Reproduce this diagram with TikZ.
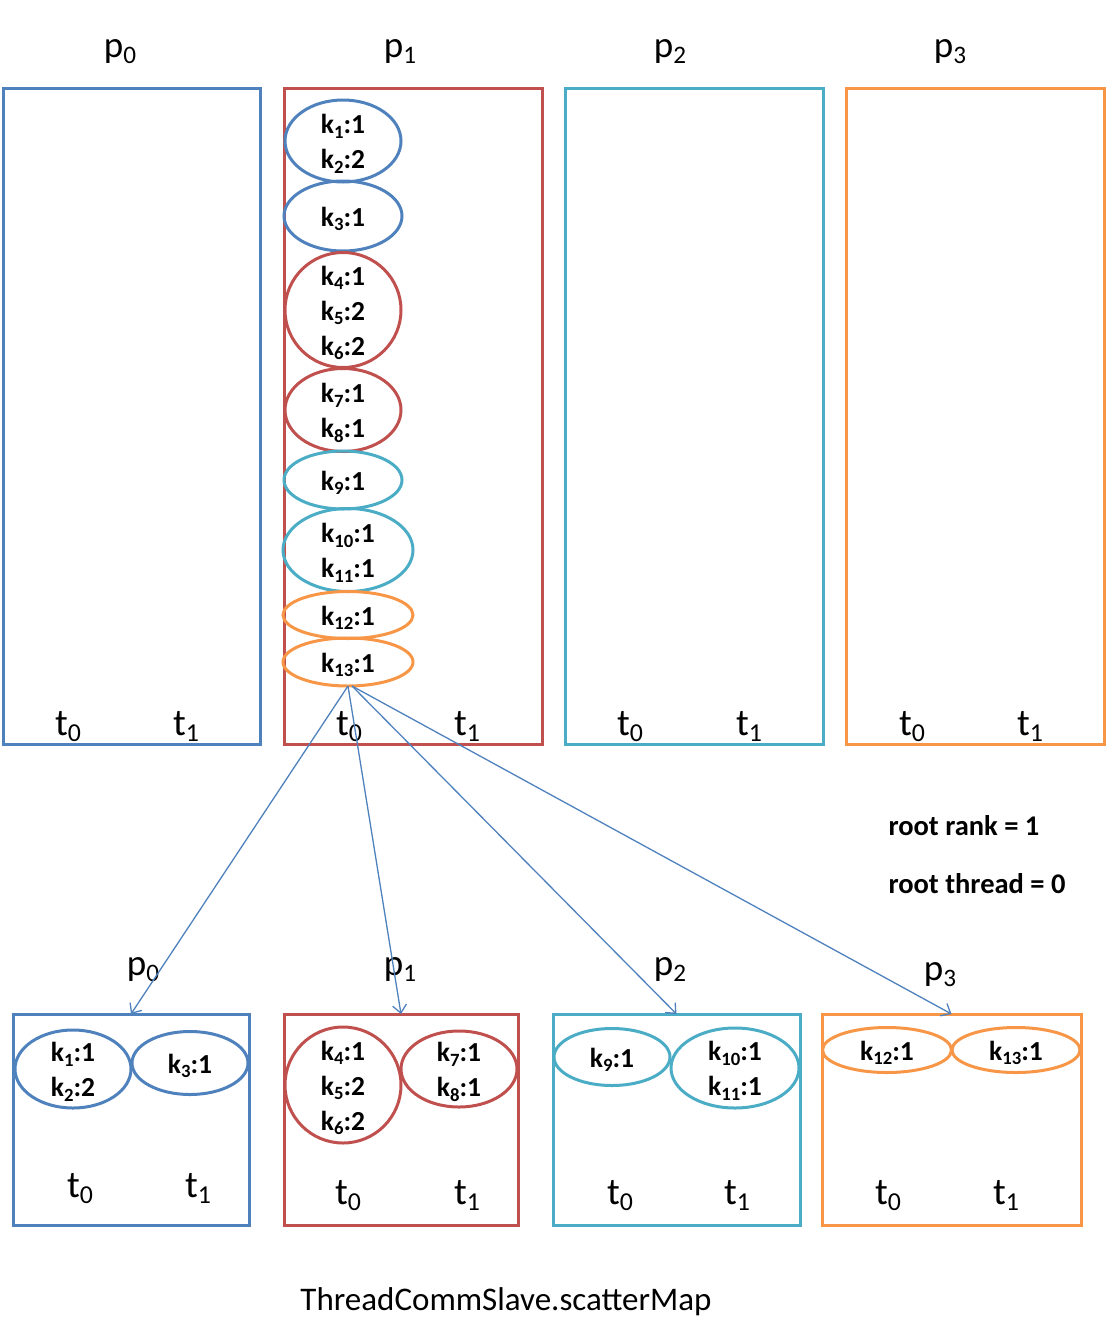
\documentclass[tikz,border=0pt]{standalone}
\usepackage{fontspec}
\setmainfont{Carlito}
\usetikzlibrary{shapes.geometric,arrows.meta}
\definecolor{cblue}{HTML}{4F81BD}
\definecolor{cred}{HTML}{C0504D}
\definecolor{ccyan}{HTML}{4BACC6}
\definecolor{corange}{HTML}{F79646}
\makeatletter
\newcommand{\mysub}[1]{\raisebox{-0.17em}{\fontsize{\the\dimexpr0.68\dimexpr\f@size pt\relax\relax}{0pt}\selectfont #1}}
\makeatother
\newcommand{\ksub}[2]{k\mysub{#1}:#2}
\newcommand{\lsub}[2]{#1\mysub{#2}}
\tikzset{
  procbox/.style={rectangle, line width=3pt, inner sep=0pt, outer sep=0pt},
  kell/.style={ellipse, line width=3pt, inner sep=0pt, outer sep=0pt,
    label={[ktext]center:#1}},
  ktext/.style={align=center, inner sep=0pt, yshift=-3pt,
    font=\fontsize{27.5}{35}\selectfont\bfseries},
  plabel/.style={anchor=base, font=\fontsize{37}{40}\selectfont},
  tlabel/.style={anchor=base, font=\fontsize{38}{40}\selectfont},
  infolabel/.style={anchor=base west, font=\fontsize{28.5}{32}\selectfont\bfseries},
  scat/.style={cblue, line width=1.3pt, -{Straight Barb[length=8pt,width=14pt,line width=1.3pt]}}
}
\begin{document}
\begin{tikzpicture}[x=1pt,y=-1pt]
\useasboundingbox (0,0) rectangle (1107,1328);
% top process boxes
\node[procbox, draw=cblue, minimum width=257pt, minimum height=656pt] (P0) at (131.5,416) {};
\node[procbox, draw=cred, minimum width=258pt, minimum height=656pt] (P1) at (413,416) {};
\node[procbox, draw=ccyan, minimum width=258pt, minimum height=656pt] (P2) at (694,416) {};
\node[procbox, draw=corange, minimum width=258pt, minimum height=656pt] (P3) at (975,416) {};
\node[plabel] (lp0) at (120,57) {\lsub{p}{0}};
\node[plabel] (lp1) at (400,57) {\lsub{p}{1}};
\node[plabel] (lp2) at (670,57) {\lsub{p}{2}};
\node[plabel] (lp3) at (950,57) {\lsub{p}{3}};
\node[tlabel] (t00) at (68,735) {\lsub{t}{0}};
\node[tlabel] (t01) at (186,735) {\lsub{t}{1}};
\node[tlabel] (t10) at (349,735) {\lsub{t}{0}};
\node[tlabel] (t11) at (467,735) {\lsub{t}{1}};
\node[tlabel] (t20) at (630,735) {\lsub{t}{0}};
\node[tlabel] (t21) at (749,735) {\lsub{t}{1}};
\node[tlabel] (t30) at (912,735) {\lsub{t}{0}};
\node[tlabel] (t31) at (1030,735) {\lsub{t}{1}};
% ellipses in p1
\node[kell={\ksub{1}{1}\\\ksub{2}{2}}, draw=cblue, minimum width=116pt, minimum height=82pt] (e1) at (343,141) {};
\node[kell={\ksub{3}{1}}, draw=cblue, minimum width=118pt, minimum height=70pt] (e3) at (343,216) {};
\node[kell={\ksub{4}{1}\\\ksub{5}{2}\\\ksub{6}{2}}, draw=cred, minimum width=116pt, minimum height=115pt] (e4) at (343,310) {};
\node[kell={\ksub{7}{1}\\\ksub{8}{1}}, draw=cred, minimum width=116pt, minimum height=83pt] (e7) at (343,410) {};
\node[kell={\ksub{9}{1}}, draw=ccyan, minimum width=118pt, minimum height=58pt] (e9) at (343,480) {};
\node[kell={\ksub{10}{1}\\\ksub{11}{1}}, draw=ccyan, minimum width=130pt, minimum height=83pt] (e10) at (348,550) {};
\node[kell={\ksub{12}{1}}, draw=corange, minimum width=130pt, minimum height=47pt] (e12) at (348,615) {};
\node[kell={\ksub{13}{1}}, draw=corange, minimum width=130pt, minimum height=48pt] (e13) at (348,662) {};
% info
\node[infolabel] (rr) at (885,835) {root rank = 1};
\node[infolabel] (rt) at (885,893) {root thread = 0};
% bottom boxes
\node[procbox, draw=cblue, minimum width=236pt, minimum height=211pt] (B0) at (131,1119.5) {};
\node[procbox, draw=cred, minimum width=234pt, minimum height=211pt] (B1) at (401,1119.5) {};
\node[procbox, draw=ccyan, minimum width=247pt, minimum height=211pt] (B2) at (676.5,1119.5) {};
\node[procbox, draw=corange, minimum width=259pt, minimum height=211pt] (B3) at (951.5,1119.5) {};
\node[plabel] (bp0) at (143,975) {\lsub{p}{0}};
\node[plabel] (bp1) at (400,975) {\lsub{p}{1}};
\node[plabel] (bp2) at (670,975) {\lsub{p}{2}};
\node[plabel] (bp3) at (940,980) {\lsub{p}{3}};
\node[tlabel] (b00) at (80,1197) {\lsub{t}{0}};
\node[tlabel] (b01) at (198,1197) {\lsub{t}{1}};
\node[tlabel] (b10) at (348,1204) {\lsub{t}{0}};
\node[tlabel] (b11) at (467,1204) {\lsub{t}{1}};
\node[tlabel] (b20) at (620,1204) {\lsub{t}{0}};
\node[tlabel] (b21) at (737,1204) {\lsub{t}{1}};
\node[tlabel] (b30) at (888,1204) {\lsub{t}{0}};
\node[tlabel] (b31) at (1006,1204) {\lsub{t}{1}};
% bottom ellipses
\node[kell={\ksub{1}{1}\\\ksub{2}{2}}, draw=cblue, minimum width=116pt, minimum height=78pt] (f1) at (73,1069) {};
\node[kell={\ksub{3}{1}}, draw=cblue, minimum width=116pt, minimum height=63pt] (f3) at (190,1063) {};
\node[kell={\ksub{4}{1}\\\ksub{5}{2}\\\ksub{6}{2}}, draw=cred, minimum width=116pt, minimum height=116pt] (f4) at (343,1085) {};
\node[kell={\ksub{7}{1}\\\ksub{8}{1}}, draw=cred, minimum width=116pt, minimum height=76pt] (f7) at (459,1069) {};
\node[kell={\ksub{9}{1}}, draw=ccyan, minimum width=116pt, minimum height=57pt] (f9) at (612,1057) {};
\node[kell={\ksub{10}{1}\\\ksub{11}{1}}, draw=ccyan, minimum width=128pt, minimum height=80pt] (f10) at (735,1068) {};
\node[kell={\ksub{12}{1}}, draw=corange, minimum width=129pt, minimum height=45pt] (f12) at (887,1050) {};
\node[kell={\ksub{13}{1}}, draw=corange, minimum width=128pt, minimum height=45pt] (f13) at (1016,1050) {};
% scatter arrows
\draw[scat] (e13.south) -- (B0.north);
\draw[scat] (e13.south) -- (B1.north);
\draw[scat] ([xshift=4pt]e13.south) -- (B2.north);
\draw[scat] ([xshift=4pt]e13.south) -- (B3.north);
% caption
\node[anchor=base, font=\fontsize{33}{36}\selectfont] (cap) at (506,1310) {ThreadCommSlave.scatterMap};
\end{tikzpicture}
\end{document}
